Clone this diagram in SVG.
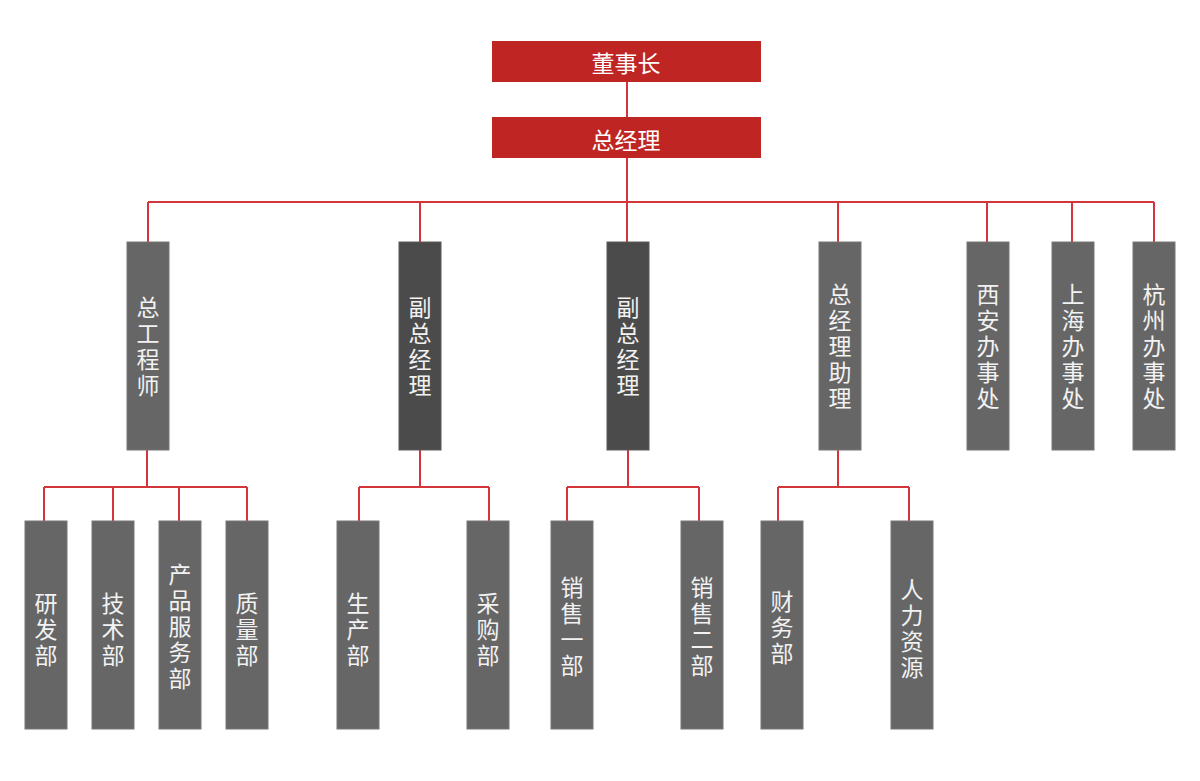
<svg xmlns="http://www.w3.org/2000/svg" width="1200" height="781" viewBox="0 0 1200 781">
<style>
.red{fill:#BF2623;}
.g{fill:#666666;stroke:#777777;stroke-width:1;}
.d{fill:#4B4B4B;stroke:#5a5a5a;stroke-width:1;}
.t{font-family:"Noto Sans CJK SC","Noto Sans",sans-serif;font-size:23px;fill:#F2F2F2;text-anchor:middle;writing-mode:vertical-rl;letter-spacing:3px;}
.th{font-family:"Noto Sans CJK SC","Noto Sans",sans-serif;font-size:23px;fill:#FFFFFF;text-anchor:middle;dominant-baseline:central;}
.c{fill:none;stroke:#D3363A;stroke-width:2;}
</style>
<rect width="1200" height="781" fill="#FFFFFF"/>
<g id="connectors">
<path class="c" d="M627 82V117M627 158V242M148 202H1154M148 202V242M420 202V242M838 202V242M987 202V242M1072 202V242M1154 202V242"/>
<path class="c" d="M147 450V487M44 487H247M44 487V521M113 487V521M179 487V521M247 487V521"/>
<path class="c" d="M420 450V487M359 487H489M359 487V521M489 487V521"/>
<path class="c" d="M628 450V487M567 487H699M567 487V521M699 487V521"/>
<path class="c" d="M838 450V487M778 487H909M778 487V521M909 487V521"/>
</g>
<g id="n-dsz"><rect class="red" x="492" y="41" width="269" height="41"/><text class="th" x="626" y="62">董事长</text></g>
<g id="n-zjl"><rect class="red" x="492" y="117" width="269" height="41"/><text class="th" x="626" y="139">总经理</text></g>

<g id="n-zgcs"><rect class="g" x="127" y="242" width="42" height="208"/><text class="t" x="148" y="348">总工程师</text></g>
<g id="n-fzjl1"><rect class="d" x="399" y="242" width="42" height="208"/><text class="t" x="420" y="348">副总经理</text></g>
<g id="n-fzjl2"><rect class="d" x="607" y="242" width="42" height="208"/><text class="t" x="628" y="348">副总经理</text></g>
<g id="n-zjlzl"><rect class="g" x="819" y="242" width="42" height="208"/><text class="t" x="840" y="348">总经理助理</text></g>
<g id="n-xa"><rect class="g" x="967" y="242" width="42" height="208"/><text class="t" x="988" y="348">西安办事处</text></g>
<g id="n-sh"><rect class="g" x="1052" y="242" width="42" height="208"/><text class="t" x="1073" y="348">上海办事处</text></g>
<g id="n-hz"><rect class="g" x="1133" y="242" width="42" height="208"/><text class="t" x="1154" y="348">杭州办事处</text></g>

<g id="n-yfb"><rect class="g" x="25" y="521" width="42" height="208"/><text class="t" x="46" y="631">研发部</text></g>
<g id="n-jsb"><rect class="g" x="92" y="521" width="42" height="208"/><text class="t" x="113" y="631">技术部</text></g>
<g id="n-cpfwb"><rect class="g" x="159" y="521" width="42" height="208"/><text class="t" x="180" y="628">产品服务部</text></g>
<g id="n-zlb"><rect class="g" x="226" y="521" width="42" height="208"/><text class="t" x="247" y="631">质量部</text></g>
<g id="n-scb"><rect class="g" x="337" y="521" width="42" height="208"/><text class="t" x="358" y="631">生产部</text></g>
<g id="n-cgb"><rect class="g" x="467" y="521" width="42" height="208"/><text class="t" x="488" y="631">采购部</text></g>
<g id="n-xs1"><rect class="g" x="551" y="521" width="42" height="208"/><text class="t" x="572" y="628">销售一部</text></g>
<g id="n-xs2"><rect class="g" x="681" y="521" width="42" height="208"/><text class="t" x="702" y="628">销售二部</text></g>
<g id="n-cwb"><rect class="g" x="761" y="521" width="42" height="208"/><text class="t" x="782" y="629">财务部</text></g>
<g id="n-rlzy"><rect class="g" x="891" y="521" width="42" height="208"/><text class="t" x="912" y="630">人力资源</text></g>
</svg>
